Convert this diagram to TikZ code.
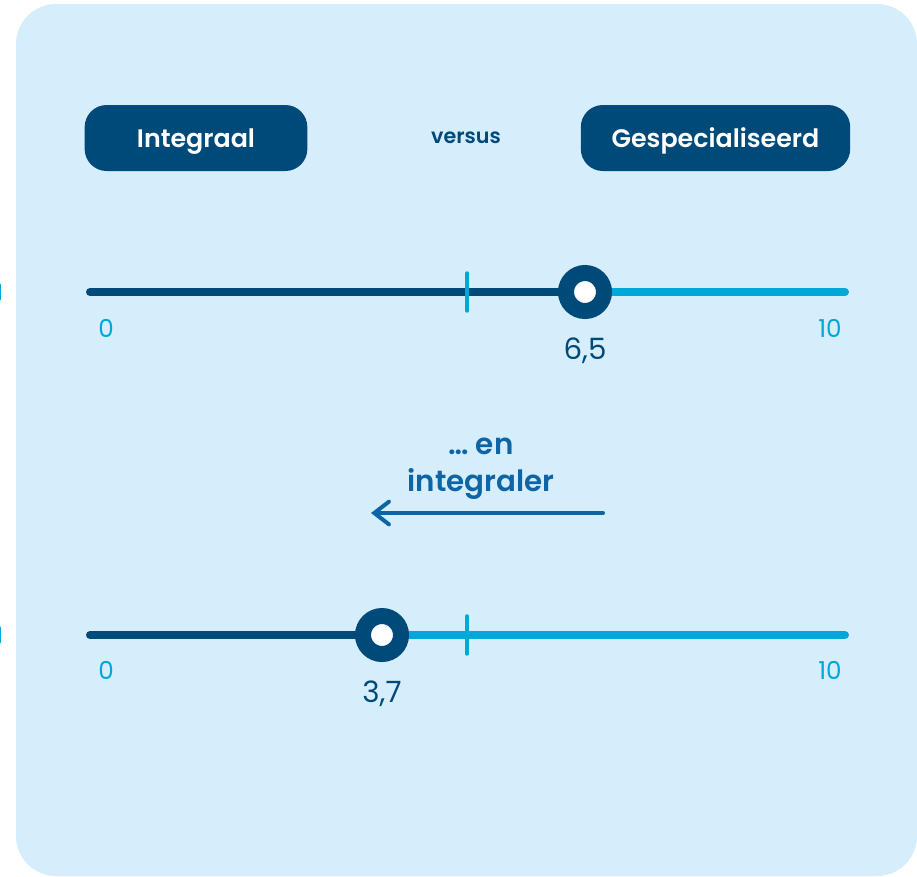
\documentclass[tikz,border=0pt]{standalone}
\usepackage{fontspec}
\setmainfont{Poppins}[BoldFont={Poppins SemiBold}]
\usetikzlibrary{positioning}
\usetikzlibrary{arrows.meta}
\definecolor{bgblue}{HTML}{D6EDFC}
\definecolor{darkblue}{HTML}{004A7A}
\definecolor{lineblue}{HTML}{00A8DA}
\definecolor{arrowblue}{HTML}{0D65A5}
\tikzset{%
  btnbox/.style={rectangle,rounded corners=16.5pt,fill=darkblue,text=white,font=\bfseries\fontsize{19}{22}\selectfont,text depth=0pt,minimum height=49.5pt,inner sep=0pt},
  knob/.style={circle,draw=darkblue,line width=12pt,fill=white,minimum size=28.5pt,inner sep=0pt},
  barlow/.style={darkblue,line width=6pt,line cap=round},
  barhigh/.style={lineblue,line width=6pt,line cap=round},
  midtick/.style={lineblue,line width=2.6pt,line cap=round},
  scalelabel/.style={text=lineblue,font=\fontsize{18.5}{22}\selectfont,inner sep=0pt},
  knoblabel/.style={text=darkblue,font=\fontsize{22}{26}\selectfont,inner sep=0pt}
}
\newcommand\versustext{versus}
\begin{document}
\begin{tikzpicture}[x=0.75pt,y=-0.75pt,node distance=6pt]
    \useasboundingbox (0,0) rectangle (917,876);
    \fill[bgblue,rounded corners=30pt] (16,4) rectangle (917,876);
    % cut marks at the left edge
    \draw[lineblue,line width=3pt,line cap=round] (-1,285) -- (-1,299);
    \draw[lineblue,line width=3pt,line cap=round] (-1,628) -- (-1,642);
    % heading
    \node[btnbox,minimum width=167pt](intbox) at (196,138){Integraal};
    \node[btnbox,minimum width=202pt](specbox) at (715.5,138){Gespecialiseerd};
    \node[text=darkblue,font=\bfseries\fontsize{15.5}{18}\selectfont](versus) at (466,138){\versustext};
    % first scale
    \coordinate(starta) at (90,292);
    \coordinate(enda) at (845,292);
    \coordinate(knobposa) at (585,292);
    \draw[barhigh] (knobposa) -- (enda);
    \draw[barlow] (starta) -- (knobposa);
    \draw[midtick] (467,273) -- (467,311);
    \node[knob](knoba) at (knobposa){};
    \node[scalelabel](zeroa) at (106,328){0};
    \node[scalelabel](tena) at (830,328){10};
    \node[knoblabel,below=14pt of knoba](vala){6,5};
    % shift
    \node[text=arrowblue,font=\bfseries\fontsize{22}{28}\selectfont,align=center](shift) at (481,469){… en\\integraler};
    \coordinate(arrowfrom) at (603,513);
    \coordinate(arrowto) at (371,513);
    \draw[arrowblue,line width=3pt,line cap=round,-{Straight Barb[length=11pt,width=17pt,line cap=round]}] (arrowfrom) -- (arrowto);
    % second scale
    \coordinate(startb) at (90,635);
    \coordinate(endb) at (845,635);
    \coordinate(knobposb) at (382,635);
    \draw[barhigh] (knobposb) -- (endb);
    \draw[barlow] (startb) -- (knobposb);
    \draw[midtick] (467,616) -- (467,654);
    \node[knob](knobb) at (knobposb){};
    \node[scalelabel](zerob) at (106,670){0};
    \node[scalelabel](tenb) at (830,670){10};
    \node[knoblabel,below=14pt of knobb](valb){3,7};
\end{tikzpicture}
\end{document}
